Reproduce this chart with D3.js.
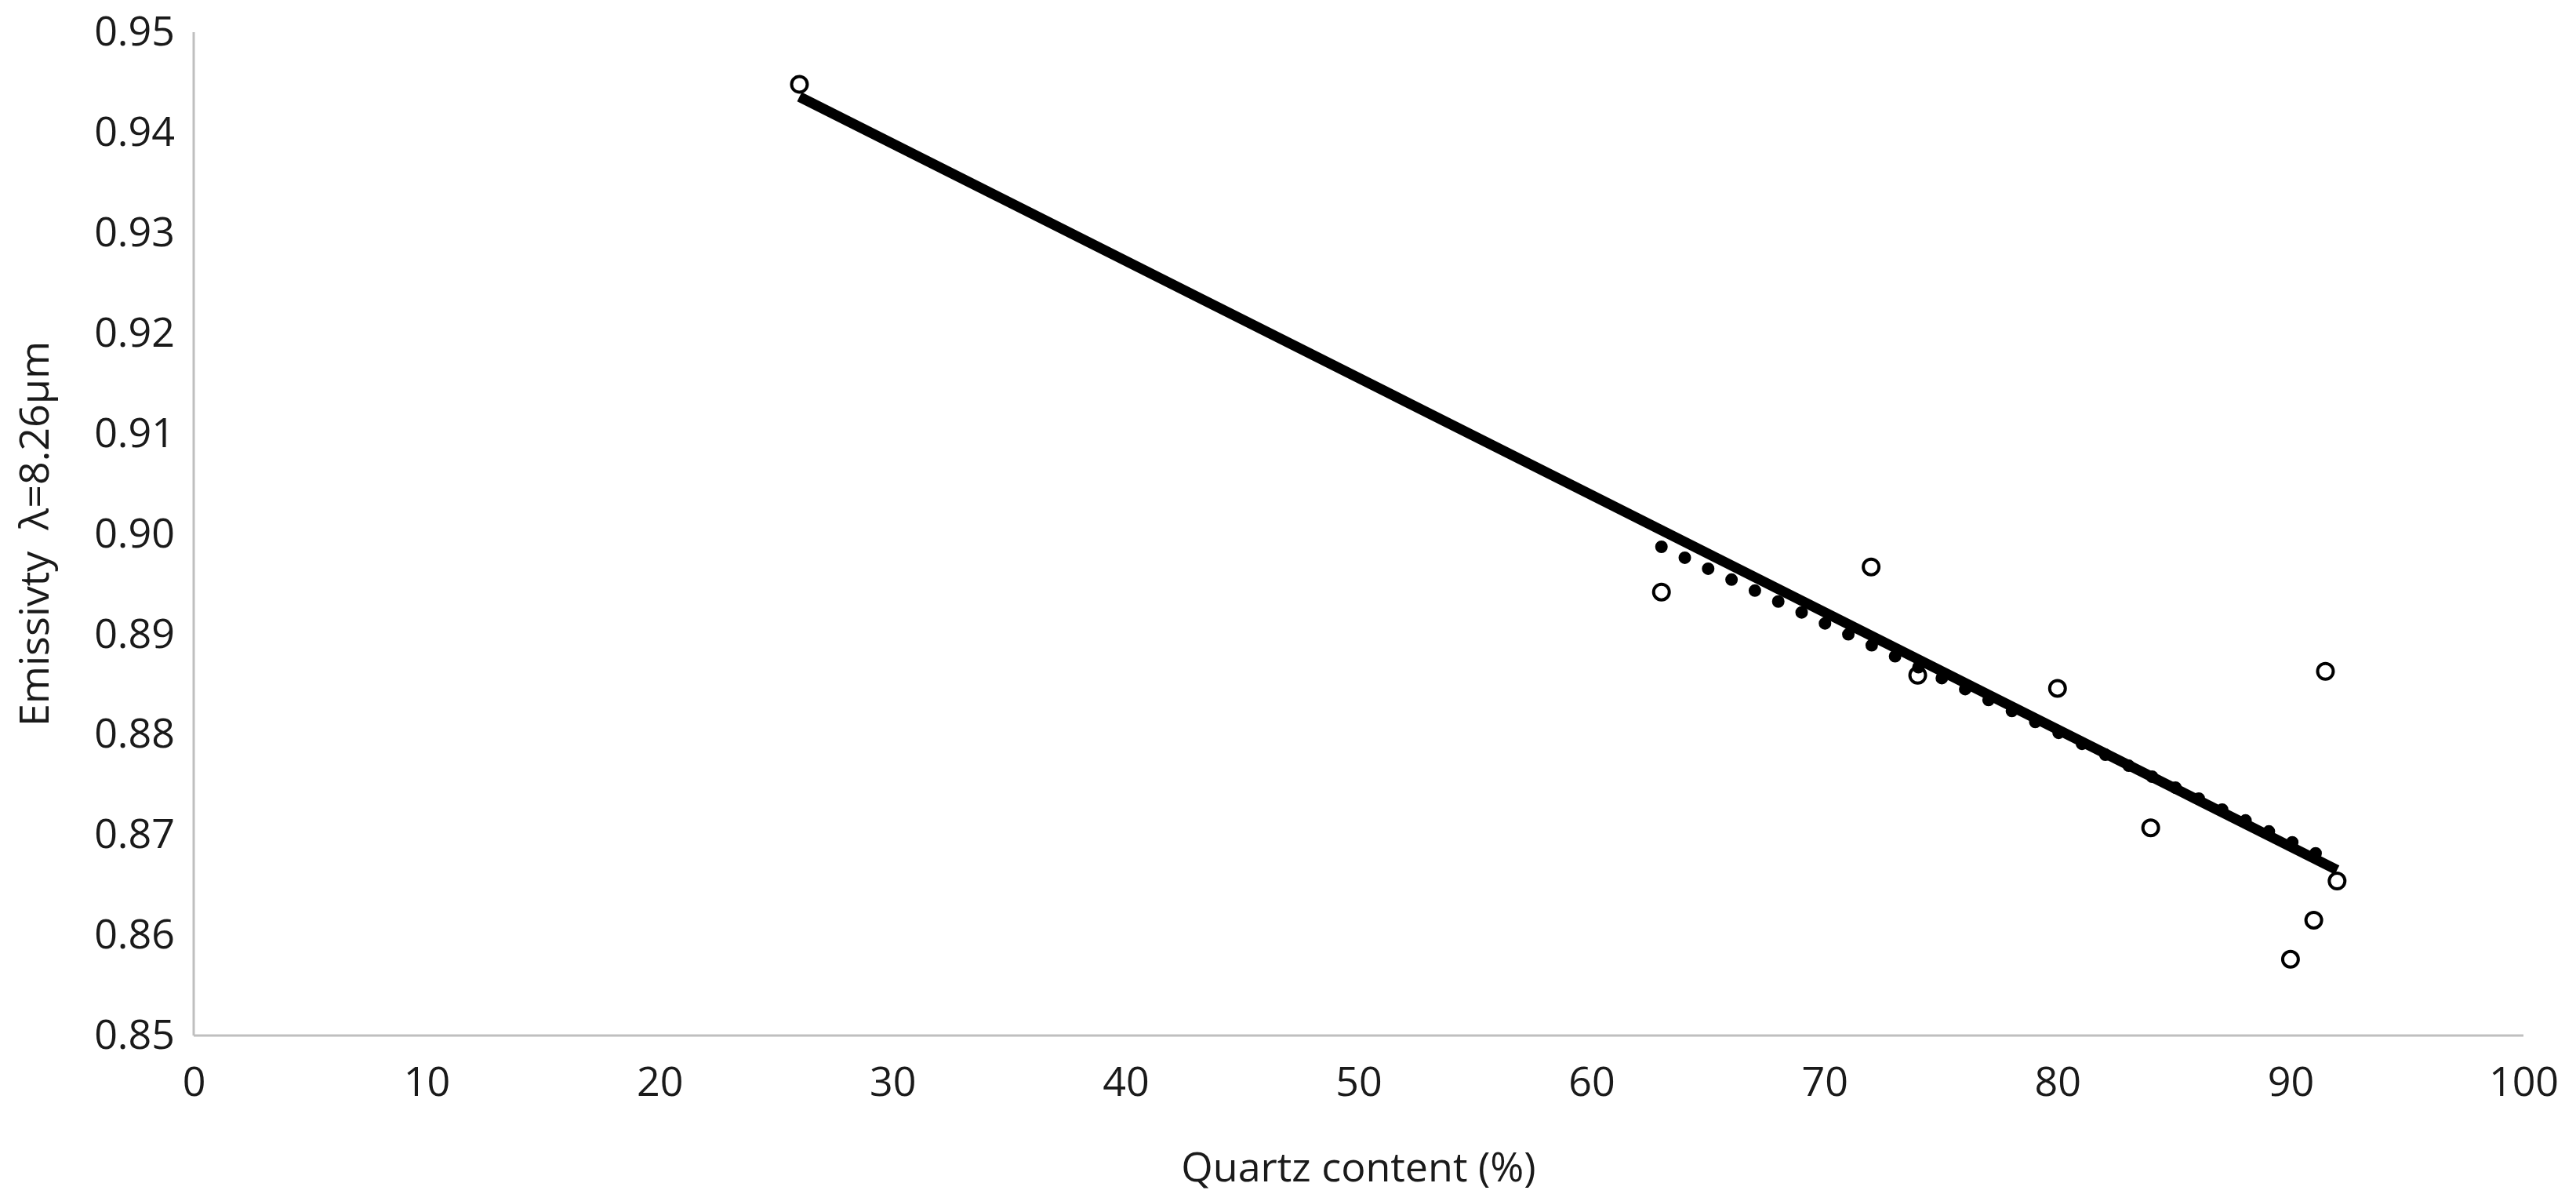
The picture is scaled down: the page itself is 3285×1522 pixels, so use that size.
<!DOCTYPE html>
<html>
<head>
<meta charset="utf-8">
<script src="https://cdn.jsdelivr.net/npm/d3@7"></script>
<style>
  body { margin: 0; background: #fff; }
  text { font-family: "Open Sans", sans-serif; fill: #1a1a1a; }
  .axis path { stroke: #bfbfbf; stroke-width: 3; }
  .axis line { display: none; }
  .axis text { font-size: 52px; font-family: "Open Sans", sans-serif; fill: #1a1a1a; }
</style>
</head>
<body>
<div id="chart"></div>
<script>
// measured samples
var quartz = [26, 63, 72, 74, 80, 84, 90, 91, 91.5, 92];
var emissivity = [0.9448, 0.8942, 0.8967, 0.8859, 0.8846, 0.8707, 0.8576, 0.8615, 0.8863, 0.8654];

var xTicks = [0, 10, 20, 30, 40, 50, 60, 70, 80, 90, 100];
var yTicks = [0.85, 0.86, 0.87, 0.88, 0.89, 0.90, 0.91, 0.92, 0.93, 0.94, 0.95];

var svgWidth = 3285;
var svgHeight = 1522;

var margin = { top: 41, right: 67, bottom: 202, left: 247 };
var width = svgWidth - margin.left - margin.right;
var height = svgHeight - margin.top - margin.bottom;

var data = quartz.map((q, i) => ({ x: q, y: emissivity[i] }));

// least squares fit, returns the two end points over the data range
function linearFit(pts) {
  var mx = d3.mean(pts, d => d.x);
  var my = d3.mean(pts, d => d.y);
  var sxy = d3.sum(pts, d => (d.x - mx) * (d.y - my));
  var sxx = d3.sum(pts, d => (d.x - mx) * (d.x - mx));
  var slope = sxy / sxx;
  var ext = d3.extent(pts, d => d.x);
  return ext.map(x => ({ x: x, y: my + slope * (x - mx) }));
}

var fitAll = linearFit(data);
var fitHigh = linearFit(data.filter(d => d.x >= 60));

const svg = d3.select("#chart")
  .append("svg")
  .attr("width", svgWidth)
  .attr("height", svgHeight);

var chartGroup = svg.append("g")
  .attr("transform", `translate(${margin.left}, ${margin.top})`);

var xScale = d3.scaleLinear().domain([0, 100]).range([0, width]);
var yScale = d3.scaleLinear().domain([0.85, 0.95]).range([height, 0]);

var bottomAxis = d3.axisBottom(xScale).tickValues(xTicks).tickSize(0).tickPadding(40);
var leftAxis = d3.axisLeft(yScale).tickValues(yTicks).tickSize(0).tickPadding(24)
  .tickFormat(d3.format(".2f"));

chartGroup.append("g")
  .attr("class", "axis")
  .attr("transform", `translate(0, ${height})`)
  .call(bottomAxis)
  .call(g => g.select(".domain").attr("d", `M0,0H${width}`));

chartGroup.append("g")
  .attr("class", "axis")
  .call(leftAxis)
  .call(g => g.select(".domain").attr("d", `M0,0V${height}`));

var line = d3.line().x(d => xScale(d.x)).y(d => yScale(d.y));

// sample points
chartGroup.selectAll("circle")
  .data(data)
  .enter()
  .append("circle")
  .attr("cx", d => xScale(d.x))
  .attr("cy", d => yScale(d.y))
  .attr("r", 10)
  .attr("fill", "#fff")
  .attr("stroke", "#000")
  .attr("stroke-width", 4);

// trend for quartz-rich samples (round dots)
chartGroup.append("path")
  .datum(fitHigh)
  .attr("d", line)
  .attr("fill", "none")
  .attr("stroke", "#000")
  .attr("stroke-width", 16)
  .attr("stroke-linecap", "round")
  .attr("stroke-dasharray", "0 32.9");

// trend for all samples
chartGroup.append("path")
  .datum(fitAll)
  .attr("d", line)
  .attr("fill", "none")
  .attr("stroke", "#000")
  .attr("stroke-width", 13);

// axis titles
svg.append("text")
  .attr("x", margin.left + width / 2)
  .attr("y", 1506)
  .attr("text-anchor", "middle")
  .style("font-size", "52px")
  .text("Quartz content (%)");

svg.append("text")
  .attr("transform", `translate(62, ${margin.top + height / 2}) rotate(-90)`)
  .attr("text-anchor", "middle")
  .style("font-size", "52px")
  .style("white-space", "pre")
  .text("Emissivty  λ=8.26μm");
</script>
</body>
</html>
